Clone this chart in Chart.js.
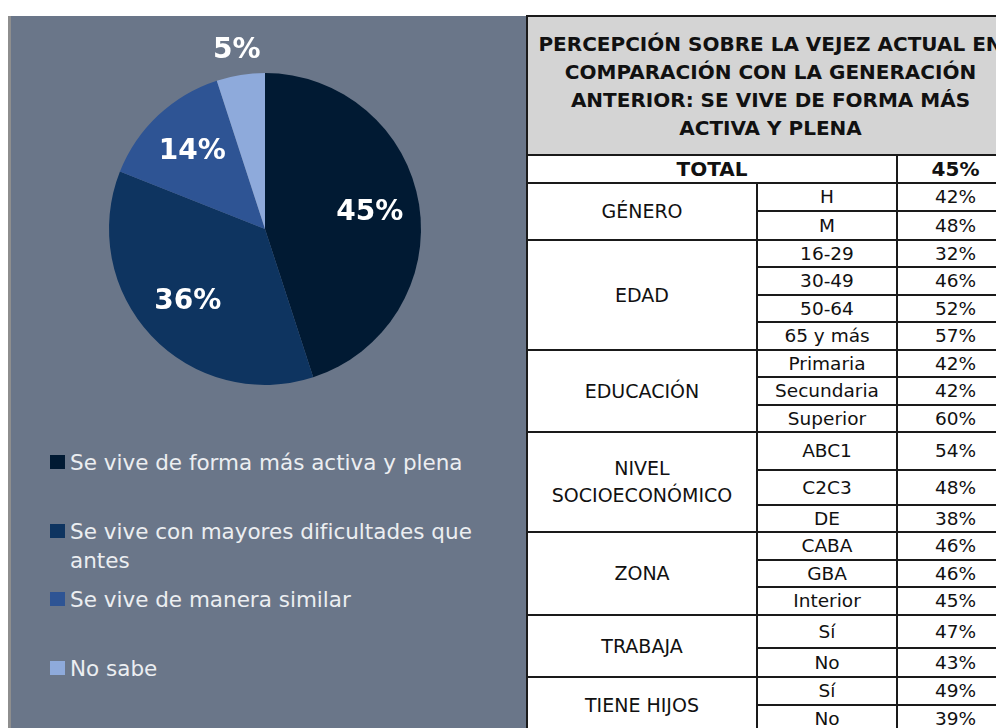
<!DOCTYPE html>
<html lang="es">
<head>
  <meta charset="UTF-8">
  <title>Percepción sobre la vejez actual</title>
  <style>
    body {
      margin: 0;
      width: 996px;
      height: 728px;
      overflow: hidden;
      position: relative;
      background: #ffffff;
      font-family: 'DejaVu Sans', sans-serif;
    }
    #panel {
      position: absolute;
      left: 8px;
      top: 16px;
      width: 519px;
      height: 712px;
      background: #6a7689;
      border-left: 3px solid #8e8e8e;
      box-sizing: border-box;
    }
    #pieBox {
      position: absolute;
      left: 8px;
      top: 16px;
      width: 514px;
      height: 400px;
    }
    #legend {
      position: absolute;
      left: 50px;
      top: 448px;
      width: 450px;
    }
    .item {
      position: relative;
      height: 68.5px;
      padding-left: 20px;
      font-size: 21.5px;
      line-height: 29px;
      color: #eceef1;
    }
    .item .box {
      position: absolute;
      left: 0;
      top: 7px;
      width: 15px;
      height: 14px;
    }
    table {
      position: absolute;
      left: 526px;
      top: 15px;
      width: 487px;
      border-collapse: collapse;
      table-layout: fixed;
      color: #111;
    }
    td {
      border: 2px solid #1a1a1a;
      text-align: center;
      padding: 0;
      font-size: 18.5px;
      line-height: 22px;
      overflow: hidden;
      white-space: nowrap;
    }
    td.grupo {
      font-size: 19px;
      line-height: 27px;
    }
    td.titulo {
      background: #d4d4d4;
      font-weight: bold;
      font-size: 20px;
      line-height: 28px;
      height: 137px;
    }
    td.total {
      font-weight: bold;
      font-size: 20px;
    }
  </style>
  <script src="https://cdn.jsdelivr.net/npm/chart.js"></script>
</head>
<body>
  <div id="panel"></div>
  <div id="pieBox"><canvas id="pie"></canvas></div>
  <div id="legend"></div>
  <table id="tabla">
    <colgroup><col style="width:230px"><col style="width:140px"><col style="width:117px"></colgroup>
    <tbody></tbody>
  </table>

  <script>
    // datos del gráfico de torta
    const categorias = [
      'Se vive de forma más activa y plena',
      'Se vive con mayores dificultades que antes',
      'Se vive de manera similar',
      'No sabe'
    ];
    const valores = [45, 36, 14, 5];
    const colores = ['#011a33', '#0e3460', '#2e5494', '#8eaadb'];

    // datos de la tabla
    const tituloTabla = ['PERCEPCIÓN SOBRE LA VEJEZ ACTUAL EN', 'COMPARACIÓN CON LA GENERACIÓN', 'ANTERIOR: SE VIVE DE FORMA MÁS', 'ACTIVA Y PLENA'];
    const total = 45;
    const grupos = ['GÉNERO', 'EDAD', 'EDUCACIÓN', 'NIVEL<br>SOCIOECONÓMICO', 'ZONA', 'TRABAJA', 'TIENE HIJOS'];
    const subgrupos = [
      ['H', 'M'],
      ['16-29', '30-49', '50-64', '65 y más'],
      ['Primaria', 'Secundaria', 'Superior'],
      ['ABC1', 'C2C3', 'DE'],
      ['CABA', 'GBA', 'Interior'],
      ['Sí', 'No'],
      ['Sí', 'No']
    ];
    const porcentajes = [
      [42, 48],
      [32, 46, 52, 57],
      [42, 42, 60],
      [54, 48, 38],
      [46, 46, 45],
      [47, 43],
      [49, 39]
    ];
    // alto de cada fila (layout)
    const altoFilas = [28, 29, 27, 28, 27, 28, 27, 28, 27, 38, 35, 27, 28, 27, 28, 33, 29, 28, 28];

    const pctLabels = {
      id: 'pctLabels',
      afterDatasetsDraw(chart) {
        const ctx = chart.ctx;
        const meta = chart.getDatasetMeta(0);
        ctx.save();
        ctx.font = 'bold 28px "DejaVu Sans"';
        ctx.fillStyle = '#ffffff';
        ctx.textAlign = 'center';
        ctx.textBaseline = 'middle';
        meta.data.forEach((arc, i) => {
          const v = chart.data.datasets[0].data[i];
          const mid = (arc.startAngle + arc.endAngle) / 2;
          const r = v < 8 ? arc.outerRadius + 24 : arc.outerRadius * 0.68;
          ctx.fillText(v + '%', arc.x + Math.cos(mid) * r, arc.y + Math.sin(mid) * r);
        });
        ctx.restore();
      }
    };

    new Chart(document.getElementById('pie'), {
      type: 'pie',
      data: {
        labels: categorias,
        datasets: [{
          data: valores,
          backgroundColor: colores,
          borderWidth: 0
        }]
      },
      options: {
        responsive: true,
        maintainAspectRatio: false,
        animation: false,
        layout: { padding: { top: 57, bottom: 31, left: 0, right: 0 } },
        plugins: {
          legend: { display: false },
          tooltip: { enabled: false }
        }
      },
      plugins: [pctLabels]
    });

    // leyenda
    const leyenda = document.getElementById('legend');
    categorias.forEach((c, i) => {
      const div = document.createElement('div');
      div.className = 'item';
      div.innerHTML = '<span class="box" style="background:' + colores[i] + '"></span>' + c;
      leyenda.appendChild(div);
    });

    // tabla
    const tbody = document.querySelector('#tabla tbody');
    let html = '<tr><td class="titulo" colspan="3">' + tituloTabla.join('<br>') + '</td></tr>';
    html += '<tr style="height:28px"><td class="total" colspan="2">TOTAL</td><td class="total">' + total + '%</td></tr>';
    let k = 0;
    grupos.forEach((g, gi) => {
      subgrupos[gi].forEach((s, si) => {
        html += '<tr style="height:' + altoFilas[k] + 'px">';
        if (si === 0) html += '<td class="grupo" rowspan="' + subgrupos[gi].length + '">' + g + '</td>';
        html += '<td>' + s + '</td><td>' + porcentajes[gi][si] + '%</td></tr>';
        k++;
      });
    });
    tbody.innerHTML = html;
  </script>
</body>
</html>
